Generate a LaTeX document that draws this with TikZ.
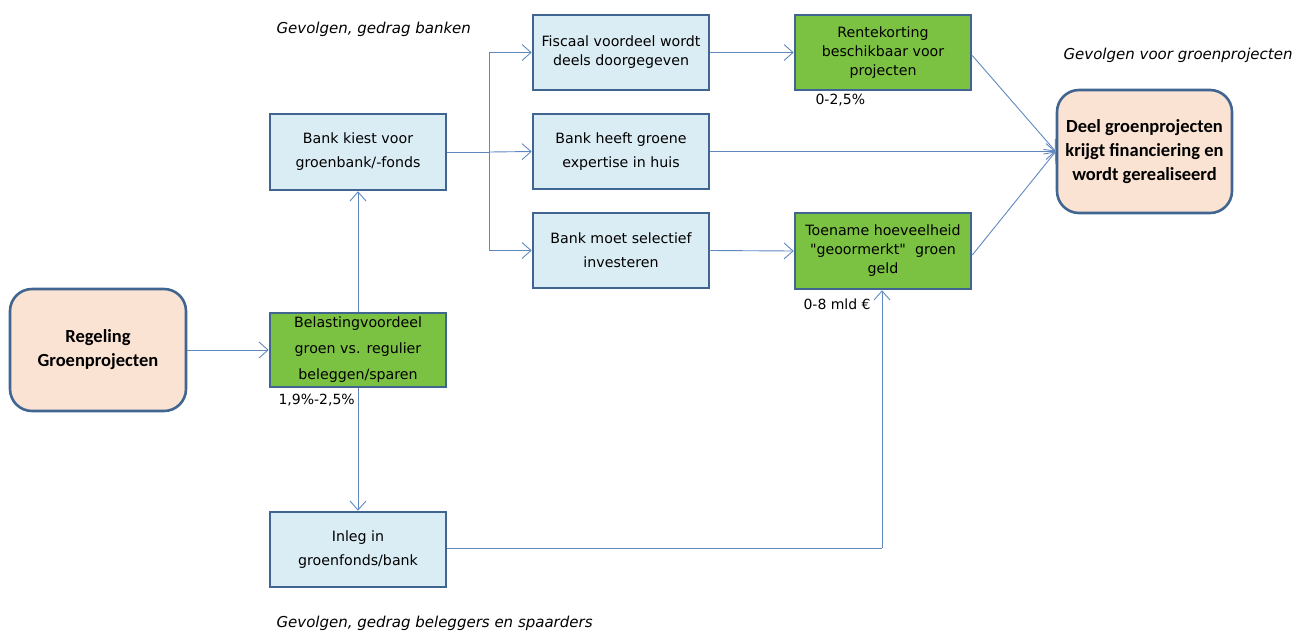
\documentclass[tikz,border=0pt]{standalone}
\usepackage{fontspec}
\setmainfont{DejaVu Sans}
\newfontfamily\boldfont{Carlito}
\usetikzlibrary{arrows.meta}
\newcommand{\dq}{{\XeTeXglyph\the\XeTeXcharglyph"22\relax}}
\definecolor{bordc}{HTML}{3F6590}
\definecolor{linec}{HTML}{5F88C0}
\definecolor{lblue}{HTML}{DBEDF4}
\definecolor{lgreen}{HTML}{7CC242}
\definecolor{peach}{HTML}{FBE3D3}
\tikzset{
  box/.style={draw=bordc, line width=2.6pt, minimum width=176pt, minimum height=75pt, align=center, font=\fontsize{14.2}{24}\selectfont, inner sep=1pt},
  tight/.style={font=\fontsize{14.2}{19}\selectfont},
  loose/.style={font=\fontsize{14.2}{26}\selectfont},
  bluebox/.style={box, fill=lblue},
  greenbox/.style={box, fill=lgreen},
  peachbox/.style={draw=bordc, line width=2.6pt, fill=peach, rounded corners=22pt, minimum width=176pt, minimum height=122pt, align=center, font=\boldfont\bfseries\fontsize{18.5}{24}\selectfont},
  conn/.style={draw=linec, line width=0.9pt, -{Straight Barb[length=9pt,width=16pt,line width=0.9pt]}},
  plain/.style={draw=linec, line width=0.9pt},
  heading/.style={font=\itshape\fontsize{15}{18}\selectfont, anchor=west},
  lbl/.style={font=\fontsize{14}{16}\selectfont, anchor=west}
}
\begin{document}
\begin{tikzpicture}[x=1pt,y=-1pt]
\useasboundingbox (0,0) rectangle (1293,633);
\node[peachbox] (reg) at (98,350) {Regeling\\Groenprojecten};
\node[greenbox, loose, minimum height=74pt] (bel) at (358,350) {Belastingvoordeel\\groen vs. regulier\\beleggen/sparen};
\node[bluebox, minimum height=76pt] (kiest) at (358,152) {Bank kiest voor\\groenbank/-fonds};
\node[bluebox] (inleg) at (358,549.5) {Inleg in\\groenfonds/bank};
\node[bluebox, tight] (fisc) at (621,52.5) {Fiscaal voordeel wordt\\deels doorgegeven};
\node[bluebox] (heeft) at (621,151.5) {Bank heeft groene\\expertise in huis};
\node[bluebox] (moet) at (621,250.5) {Bank moet selectief\\investeren};
\node[greenbox, tight] (rente) at (883,52.5) {Rentekorting\\beschikbaar voor\\projecten};
\node[greenbox, tight, minimum height=76pt] (toe) at (883,251) {Toename hoeveelheid\\\dq geoormerkt\dq\ \ groen\\geld};
\node[peachbox, minimum width=175pt, minimum height=123pt] (deel) at (1144.5,151.5) {Deel groenprojecten\\krijgt financiering en\\wordt gerealiseerd};

\node[heading] (h1) at (273,29) {Gevolgen, gedrag banken};
\node[heading] (h2) at (1060,55) {Gevolgen voor groenprojecten};
\node[heading] (h3) at (273,623) {Gevolgen, gedrag beleggers en spaarders};
\node[lbl] (l1) at (275,400) {1,9\%-2,5\%};
\node[lbl] (l2) at (812,100) {0-2,5\%};
\node[lbl] (l3) at (800,304) {0-8 mld €};

\coordinate (split) at (489,152);
\coordinate (corner) at (882,548);
\draw[conn] (reg.east) -- (bel.west);
\draw[conn] (bel.north) -- (kiest.south);
\draw[conn] (bel.south) -- (inleg.north);
\draw[plain] (kiest.east) -- (split);
\draw[conn] (split) |- (fisc.west);
\draw[conn] (split) -- (heeft.west);
\draw[conn] (split) |- (moet.west);
\draw[conn] (fisc.east) -- (rente.west);
\draw[conn] (moet.east) -- (toe.west);
\draw[conn] ([yshift=-3pt]rente.east) -- (deel.west);
\draw[conn] (heeft.east) -- (deel.west);
\draw[conn] ([yshift=-4pt]toe.east) -- (deel.west);
\draw[plain] (inleg.east |- corner) -- (corner);
\draw[conn] (corner) -- (corner |- toe.south);
\end{tikzpicture}
\end{document}
